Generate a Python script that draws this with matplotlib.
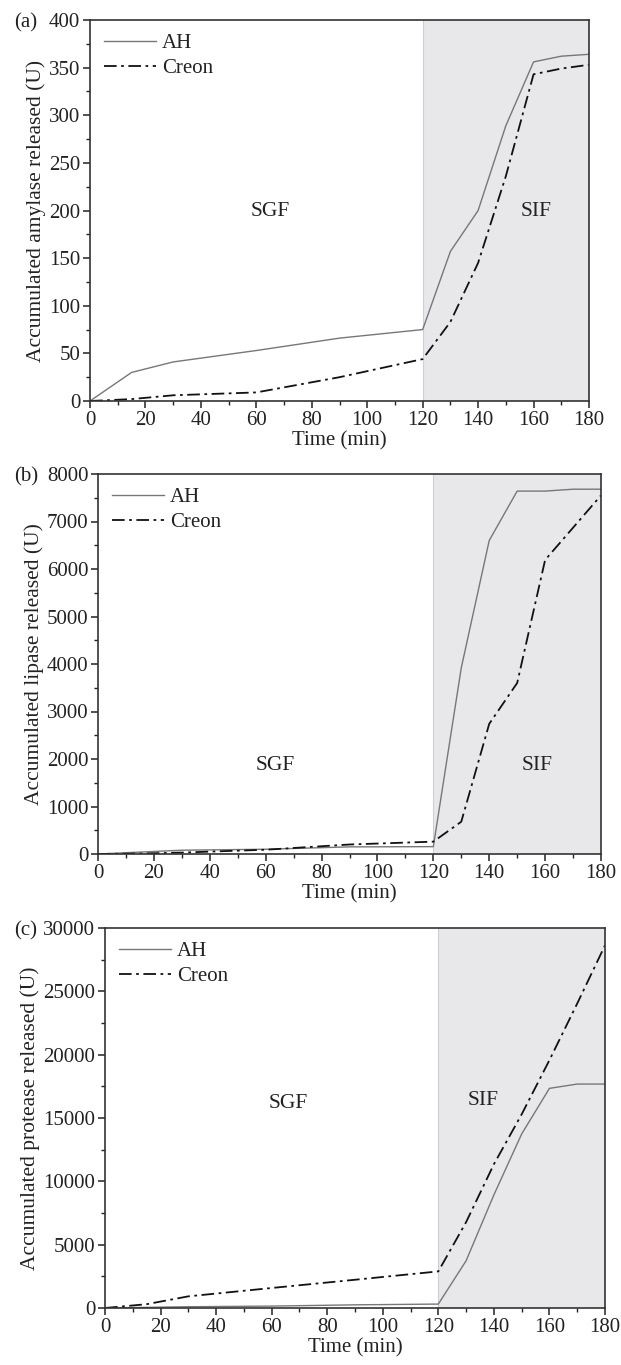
import matplotlib.pyplot as plt
from matplotlib.ticker import MultipleLocator

plt.rcParams['font.family'] = ['Liberation Serif', 'DejaVu Serif']

# time points (min)
time = [0, 15, 30, 60, 90, 120, 130, 140, 150, 160, 170, 180]

# (a) amylase
amylase_ah = [0, 30, 41, 53, 66, 75, 157, 200, 289, 356, 362, 364]
amylase_creon = [0, 2, 6, 9, 25, 44, 83, 145, 236, 343, 349, 353]

# (b) lipase
lipase_ah = [0, 40, 80, 100, 150, 155, 3920, 6600, 7640, 7640, 7680, 7680]
lipase_creon = [0, 10, 30, 90, 200, 260, 680, 2740, 3600, 6190, 6870, 7550]

# (c) protease
protease_ah = [0, 50, 100, 150, 250, 310, 3730, 8930, 13740, 17340, 17680, 17680]
protease_creon = [0, 300, 920, 1580, 2230, 2890, 6780, 11350, 15290, 19570, 24040, 28630]

panels = [
    dict(tag="(a)", ah=amylase_ah, creon=amylase_creon, ylabel="Accumulated amylase released (U)",
         ymax=400, major=50, minor=25, box=[90, 20, 589, 401],
         sgf=(65, 199), sif=(161, 199)),
    dict(tag="(b)", ah=lipase_ah, creon=lipase_creon, ylabel="Accumulated lipase released (U)",
         ymax=8000, major=1000, minor=500, box=[98, 474, 601, 854],
         sgf=(63.5, 1860), sif=(157, 1860)),
    dict(tag="(c)", ah=protease_ah, creon=protease_creon, ylabel="Accumulated protease released (U)",
         ymax=30000, major=5000, minor=2500, box=[105, 928, 605, 1308],
         sgf=(66, 16150), sif=(136, 16400)),
]

W, H = 621, 1365
fig = plt.figure(figsize=(W / 100, H / 100), dpi=100)

for p in panels:
    x0, y0, x1, y1 = p["box"]
    ax = fig.add_axes([x0 / W, 1 - y1 / H, (x1 - x0) / W, (y1 - y0) / H])

    # SIF region shading
    ax.axvspan(120, 180, color="#e8e8eb", zorder=0, lw=0)
    ax.axvline(120, color="#cfcfd3", lw=0.8, zorder=0.5)

    ax.plot(time, p["ah"], color="#777777", lw=1.0, label="AH")
    ax.plot(time, p["creon"], color="#111111", lw=1.3, dashes=(7, 2.5, 1.5, 2.5), label="Creon")

    ax.set_xlim(0, 180)
    ax.set_ylim(0, p["ymax"])
    ax.xaxis.set_major_locator(MultipleLocator(20))
    ax.xaxis.set_minor_locator(MultipleLocator(10))
    ax.yaxis.set_major_locator(MultipleLocator(p["major"]))
    ax.yaxis.set_minor_locator(MultipleLocator(p["minor"]))
    ax.tick_params(which="major", direction="out", length=5, width=1.1, labelsize=15, pad=2,
                   colors="#222222")
    ax.tick_params(which="minor", direction="out", length=3, width=1.0, colors="#222222")
    for s in ax.spines.values():
        s.set_linewidth(1.2)
        s.set_color("#333333")

    ax.set_xlabel("Time (min)", fontsize=15, labelpad=1, color="#222222")
    ax.set_ylabel(p["ylabel"], fontsize=15.5, labelpad=2, color="#222222")

    ax.text(*p["sgf"], "SGF", fontsize=15.5, ha="center", va="center", color="#222222")
    ax.text(*p["sif"], "SIF", fontsize=15.5, ha="center", va="center", color="#222222")

    leg = ax.legend(loc="upper left", frameon=False, fontsize=15, handlelength=2.5,
                    handletextpad=0.3, labelspacing=0.25, borderaxespad=0.25)
    for t in leg.get_texts():
        t.set_color("#222222")

    fig.text(14 / W, 1 - (y0 + 3) / H, p["tag"], fontsize=15, ha="left", va="center", color="#222222")

fig.savefig("out.png", dpi=100)
